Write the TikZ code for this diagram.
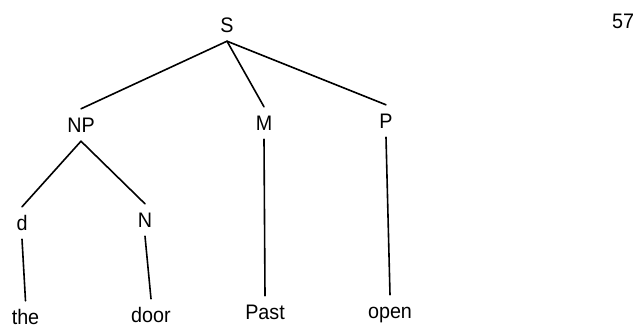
\documentclass[tikz,border=0pt]{standalone}
\usepackage{fontspec}
\setmainfont{Liberation Sans}[FakeStretch=0.94]
\begin{document}
\begin{tikzpicture}[x=1pt,y=-1pt,
  lbl/.style={font=\fontsize{21}{24}\selectfont, text height=14pt, text depth=0pt,
              inner xsep=0pt, inner ysep=9pt, anchor=base},
  branch/.style={line width=1.6pt, line cap=round}]
\useasboundingbox (0,0) rectangle (639,327);
\node[lbl] (S) at (227,32) {S};
\node[lbl] (NP) at (81,132) {NP};
\node[lbl] (M) at (264,130) {M};
\node[lbl] (P) at (386,128) {P};
\node[lbl] (d) at (22,230) {d};
\node[lbl] (N) at (145,227) {N};
\node[lbl] (the) at (25.5,324) {the};
\node[lbl] (door) at (151,322) {door};
\node[lbl] (Past) at (265,319) {Past};
\node[lbl] (open) at (390,318) {open};
\node[lbl] (pg) at (623,28) {57};
\draw[branch] (S.south) -- (NP.north);
\draw[branch] (S.south) -- (M.north);
\draw[branch] (S.south) -- (P.north);
\draw[branch] (NP.south) -- (d.north);
\draw[branch] (NP.south) -- (N.north);
\draw[branch] (d.south) -- (the.north);
\draw[branch] (N.south) -- (door.north);
\draw[branch] (M.south) -- (Past.north);
\draw[branch] (P.south) -- (open.north);
\end{tikzpicture}
\end{document}
